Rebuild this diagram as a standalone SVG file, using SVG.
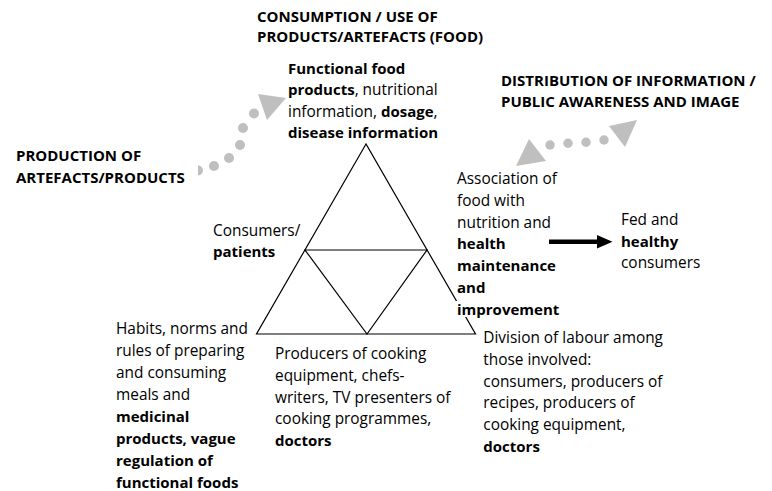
<svg xmlns="http://www.w3.org/2000/svg" width="772" height="491" viewBox="0 0 772 491">
<style>
text{font-family:"Open Sans","Liberation Sans",sans-serif;font-size:15.4px;fill:#000}
.b{font-weight:bold;font-size:15px}
.dot{fill:#bfbfbf}
.head{fill:#bfbfbf}
.tri{fill:none;stroke:#000;stroke-width:1.2}
.bg{fill:#fff}
</style>
<rect width="772" height="491" fill="#fff"/>
<g id="triangle">
<polygon class="tri" points="366,144 256.5,334 475.5,334"/>
<polygon class="tri" points="305,250 427,250 367,334"/>
</g>
<g id="connectors">
<g id="arrow-production-consumption">
<circle class="dot" cx="198" cy="170.5" r="5"/>
<circle class="dot" cx="214" cy="166" r="5"/>
<circle class="dot" cx="229" cy="158" r="5"/>
<circle class="dot" cx="240" cy="145" r="5"/>
<circle class="dot" cx="243" cy="128" r="5"/>
<circle class="dot" cx="254" cy="113.5" r="5"/>
<polygon class="head" points="258,94 286,98 267,120"/>
</g>
<g id="arrow-distribution">
<polygon class="head" points="529,139 516,166 546,161"/>
<circle class="dot" cx="550" cy="145" r="4.7"/>
<circle class="dot" cx="568" cy="143.3" r="4.7"/>
<circle class="dot" cx="586" cy="142.3" r="4.7"/>
<circle class="dot" cx="604" cy="140" r="4.7"/>
<polygon class="head" points="609,126 637,120 625,147"/>
</g>
<g id="arrow-fed">
<rect x="549" y="239.5" width="49" height="4.5" fill="#000"/>
<polygon points="597,235 612.5,241.8 597,248.5" fill="#000"/>
</g>
</g>
<g id="title-consumption">
<text class="b" x="257" y="21.7">CONSUMPTION / USE OF</text>
<text class="b" x="257" y="42.3">PRODUCTS/ARTEFACTS (FOOD)</text>
</g>
<g id="node-functional-food">
<text x="288" y="74"><tspan class="b">Functional food</tspan></text>
<text x="288" y="95.3"><tspan class="b">products</tspan>, nutritional</text>
<text x="288" y="116.6">information, <tspan class="b">dosage</tspan>,</text>
<text x="288" y="137.9"><tspan class="b">disease information</tspan></text>
</g>
<g id="title-distribution">
<text class="b" x="501" y="86">DISTRIBUTION OF INFORMATION /</text>
<text class="b" x="501" y="107.3">PUBLIC AWARENESS AND IMAGE</text>
</g>
<g id="title-production">
<rect class="bg" x="10" y="144" width="188" height="46"/>
<text class="b" x="16" y="160.7">PRODUCTION OF</text>
<text class="b" x="16" y="183.3">ARTEFACTS/PRODUCTS</text>
</g>
<g id="node-consumers">
<text x="213" y="235.5">Consumers/</text>
<text class="b" x="213" y="257">patients</text>
</g>
<g id="node-association">
<rect class="bg" x="456" y="301" width="12" height="16"/>
<text x="457" y="184.3">Association of</text>
<text x="457" y="206">food with</text>
<text x="457" y="227.7">nutrition and</text>
<text class="b" x="457" y="249.4">health</text>
<text class="b" x="457" y="271.1">maintenance</text>
<text class="b" x="457" y="292.8">and</text>
<text class="b" x="457" y="314.5">improvement</text>
</g>
<g id="node-fed">
<text x="621" y="225">Fed and</text>
<text class="b" x="621" y="246.7">healthy</text>
<text x="621" y="268.3">consumers</text>
</g>
<g id="node-habits">
<text x="116" y="334.3">Habits, norms and</text>
<text x="116" y="356.2">rules of preparing</text>
<text x="116" y="378.1">and consuming</text>
<text x="116" y="400">meals and</text>
<text class="b" x="116" y="421.9">medicinal</text>
<text class="b" x="116" y="443.8">products, vague</text>
<text class="b" x="116" y="465.7">regulation of</text>
<text class="b" x="116" y="487.6">functional foods</text>
</g>
<g id="node-producers">
<text x="275" y="359.3">Producers of cooking</text>
<text x="275" y="381">equipment, chefs-</text>
<text x="275" y="402.7">writers, TV presenters of</text>
<text x="275" y="424.4">cooking programmes,</text>
<text class="b" x="275" y="446.1">doctors</text>
</g>
<g id="node-division">
<text x="483.3" y="343.3">Division of labour among</text>
<text x="483.3" y="365">those involved:</text>
<text x="483.3" y="386.7">consumers, producers of</text>
<text x="483.3" y="408.4">recipes, producers of</text>
<text x="483.3" y="430.1">cooking equipment,</text>
<text class="b" x="483.3" y="451.8">doctors</text>
</g>
</svg>
